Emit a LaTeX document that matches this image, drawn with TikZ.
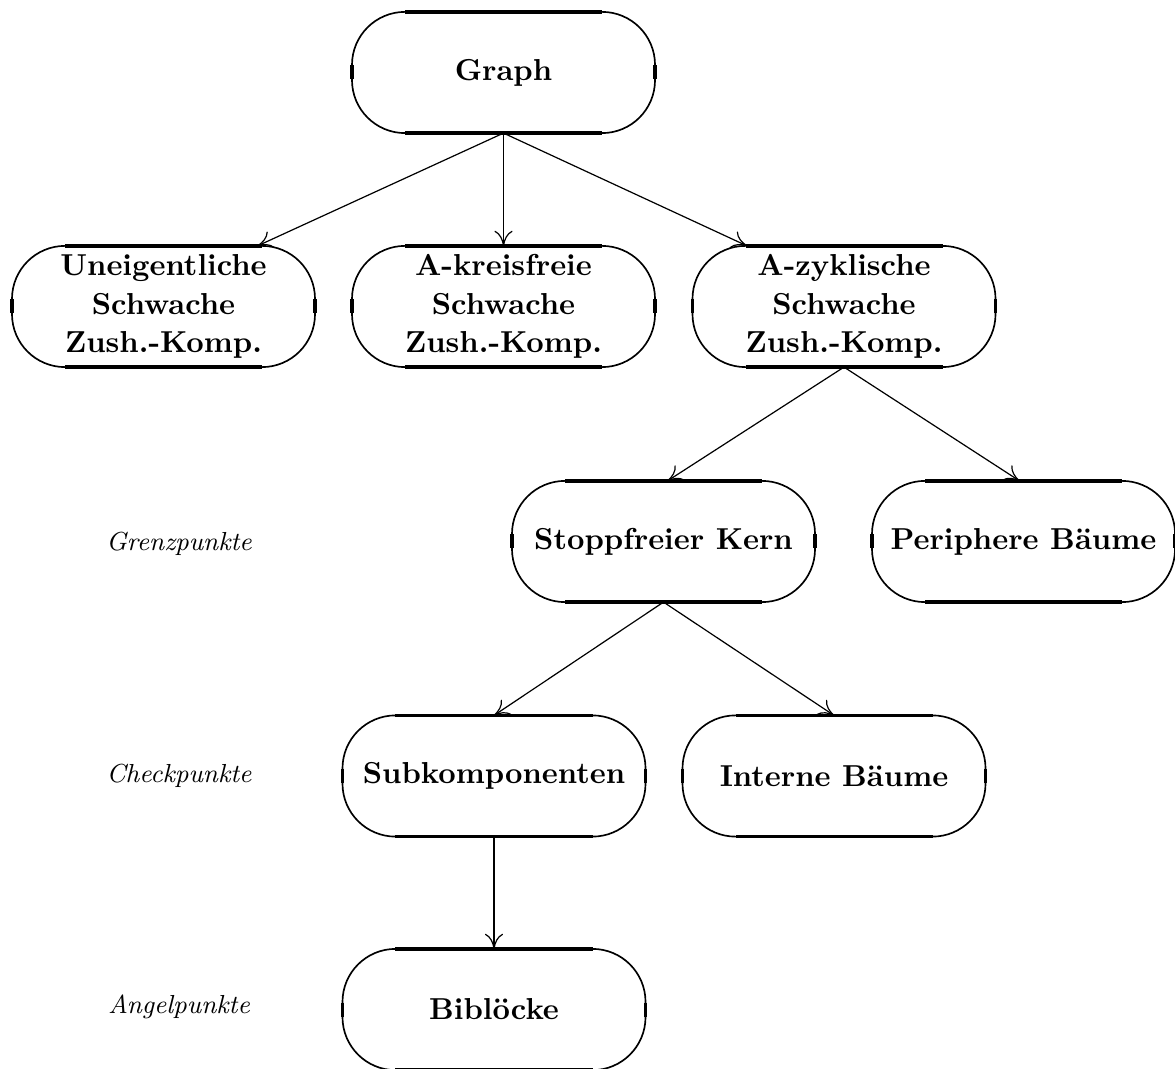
\documentclass[tikz,border=0pt]{standalone}
\usetikzlibrary{arrows.meta,calc}
\begin{document}
\begin{tikzpicture}[x=0.33pt,y=-0.33pt,
  box/.style={draw,line width=0.55pt,rounded corners=17.5pt,minimum width=100pt,
    minimum height=40pt,inner sep=0pt,outer sep=0pt,align=center,
    font=\fontsize{10}{12.6}\selectfont\bfseries},
  lab/.style={font=\fontsize{8.6}{10}\selectfont\itshape},
  arr/.style={-{To[length=5pt,width=6pt]},line width=0.4pt},
  seg/.style={line width=1.1pt}]
\useasboundingbox (0,0) rectangle (1175,1069);
\node[box] (g) at (503.5,72.5) {Graph};
\node[box] (u) at (163.5,306.5) {Uneigentliche\\Schwache\\Zush.-Komp.};
\node[box] (k) at (503.5,306.5) {A-kreisfreie\\Schwache\\Zush.-Komp.};
\node[box] (z) at (844,306.5) {A-zyklische\\Schwache\\Zush.-Komp.};
\node[box] (s) at (663.5,541.5) {Stoppfreier Kern};
\node[box] (p) at (1023.5,541.5) {Periphere Bäume};
\node[box] (sub) at (494,776) {Subkomponenten};
\node[box] (i) at (834,776) {Interne Bäume};
\node[box] (b) at (494,1009.5) {Biblöcke};
\node[lab] (l1) at (179,544) {Grenzpunkte};
\node[lab] (l2) at (179,776) {Checkpunkte};
\node[lab] (l3) at (179,1007) {Angelpunkte};
\foreach \n in {g,u,k,z,s,p,sub,i,b} {
  \draw[seg] ($(\n.north west)+(53,0)$) -- ($(\n.north east)+(-53,0)$);
  \draw[seg] ($(\n.south west)+(53,0)$) -- ($(\n.south east)+(-53,0)$);
  \draw[seg] ($(\n.west)+(0,-7)$) -- ($(\n.west)+(0,7)$);
  \draw[seg] ($(\n.east)+(0,-7)$) -- ($(\n.east)+(0,7)$);
}
\draw[arr] (g.south) -- ($(u.north)+(94,0)$);
\draw[arr] (g.south) -- (k.north);
\draw[arr] (g.south) -- ($(z.north)+(-97,0)$);
\draw[arr] (z.south) -- ($(s.north)+(4,0)$);
\draw[arr] (z.south) -- ($(p.north)+(-4,0)$);
\draw[arr] (s.south) -- (sub.north);
\draw[arr] (s.south) -- (i.north);
\draw[arr] (sub.south) -- (b.north);
\end{tikzpicture}
\end{document}
